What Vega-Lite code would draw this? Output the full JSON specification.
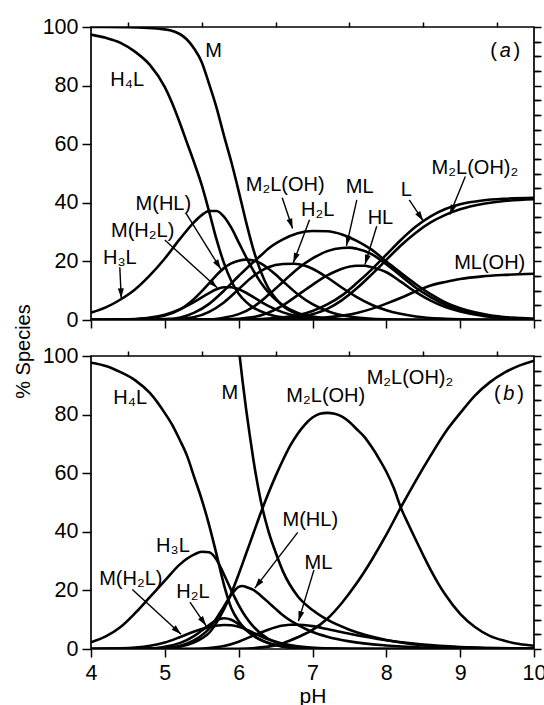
{
"$schema": "https://vega.github.io/schema/vega-lite/v6.json",
"background": "white",
"padding": {"left": 12, "top": 15, "right": 0, "bottom": 0},
"spacing": 36,
"bounds": "flush",
"config": {
  "font": "Liberation Sans",
  "view": {"stroke": "black", "strokeWidth": 1.7},
  "axis": {"domain": false, "grid": false, "ticks": true, "tickColor": "black", "tickWidth": 1.5, "labelColor": "black", "labelFont": "Liberation Sans", "labelFontSize": 21.5, "titleFont": "Liberation Sans", "titleFontSize": 20, "titleFontWeight": "normal", "titleColor": "black", "labelOverlap": false, "labelFlush": false}
},
"datasets": {
"curves": [
{"panel":"a","sp":"M","pH":4,"pct":100},{"panel":"a","sp":"M","pH":4.5,"pct":99.9},{"panel":"a","sp":"M","pH":5,"pct":99.2},{"panel":"a","sp":"M","pH":5.25,"pct":96.8},{"panel":"a","sp":"M","pH":5.4,"pct":92.5},{"panel":"a","sp":"M","pH":5.5,"pct":88},{"panel":"a","sp":"M","pH":5.6,"pct":80.5},{"panel":"a","sp":"M","pH":5.7,"pct":72.5},{"panel":"a","sp":"M","pH":5.8,"pct":63},{"panel":"a","sp":"M","pH":5.9,"pct":54},{"panel":"a","sp":"M","pH":6.0,"pct":44},{"panel":"a","sp":"M","pH":6.1,"pct":33.5},{"panel":"a","sp":"M","pH":6.2,"pct":24},{"panel":"a","sp":"M","pH":6.3,"pct":16.5},{"panel":"a","sp":"M","pH":6.4,"pct":11},{"panel":"a","sp":"M","pH":6.5,"pct":7.4},{"panel":"a","sp":"M","pH":6.6,"pct":4.8},{"panel":"a","sp":"M","pH":6.8,"pct":2},{"panel":"a","sp":"M","pH":7.0,"pct":0.8},{"panel":"a","sp":"M","pH":7.5,"pct":0.1},{"panel":"a","sp":"M","pH":8,"pct":0},{"panel":"a","sp":"M","pH":10,"pct":0},
{"panel":"a","sp":"H4L","pH":4,"pct":97.4},{"panel":"a","sp":"H4L","pH":4.2,"pct":96.3},{"panel":"a","sp":"H4L","pH":4.4,"pct":94.6},{"panel":"a","sp":"H4L","pH":4.6,"pct":91.5},{"panel":"a","sp":"H4L","pH":4.8,"pct":87},{"panel":"a","sp":"H4L","pH":5.0,"pct":79.5},{"panel":"a","sp":"H4L","pH":5.1,"pct":74},{"panel":"a","sp":"H4L","pH":5.2,"pct":67.5},{"panel":"a","sp":"H4L","pH":5.3,"pct":60.5},{"panel":"a","sp":"H4L","pH":5.4,"pct":53.5},{"panel":"a","sp":"H4L","pH":5.5,"pct":46},{"panel":"a","sp":"H4L","pH":5.6,"pct":37},{"panel":"a","sp":"H4L","pH":5.7,"pct":27.5},{"panel":"a","sp":"H4L","pH":5.8,"pct":19.5},{"panel":"a","sp":"H4L","pH":5.9,"pct":13.3},{"panel":"a","sp":"H4L","pH":6.0,"pct":9},{"panel":"a","sp":"H4L","pH":6.1,"pct":6.2},{"panel":"a","sp":"H4L","pH":6.2,"pct":4.2},{"panel":"a","sp":"H4L","pH":6.4,"pct":2},{"panel":"a","sp":"H4L","pH":6.6,"pct":0.9},{"panel":"a","sp":"H4L","pH":6.8,"pct":0.4},{"panel":"a","sp":"H4L","pH":7.0,"pct":0.2},{"panel":"a","sp":"H4L","pH":7.5,"pct":0},{"panel":"a","sp":"H4L","pH":10,"pct":0},
{"panel":"a","sp":"H3L","pH":4,"pct":2.5},{"panel":"a","sp":"H3L","pH":4.2,"pct":4.3},{"panel":"a","sp":"H3L","pH":4.4,"pct":7.0},{"panel":"a","sp":"H3L","pH":4.6,"pct":10.5},{"panel":"a","sp":"H3L","pH":4.8,"pct":15.3},{"panel":"a","sp":"H3L","pH":5.0,"pct":21},{"panel":"a","sp":"H3L","pH":5.2,"pct":27.5},{"panel":"a","sp":"H3L","pH":5.4,"pct":33.5},{"panel":"a","sp":"H3L","pH":5.5,"pct":35.8},{"panel":"a","sp":"H3L","pH":5.6,"pct":37.2},{"panel":"a","sp":"H3L","pH":5.7,"pct":37.2},{"panel":"a","sp":"H3L","pH":5.8,"pct":35.3},{"panel":"a","sp":"H3L","pH":5.9,"pct":31.5},{"panel":"a","sp":"H3L","pH":6.0,"pct":26.5},{"panel":"a","sp":"H3L","pH":6.1,"pct":21.5},{"panel":"a","sp":"H3L","pH":6.2,"pct":16.8},{"panel":"a","sp":"H3L","pH":6.3,"pct":12.8},{"panel":"a","sp":"H3L","pH":6.4,"pct":9.5},{"panel":"a","sp":"H3L","pH":6.5,"pct":7},{"panel":"a","sp":"H3L","pH":6.6,"pct":5},{"panel":"a","sp":"H3L","pH":6.8,"pct":2.4},{"panel":"a","sp":"H3L","pH":7.0,"pct":1.2},{"panel":"a","sp":"H3L","pH":7.5,"pct":0.2},{"panel":"a","sp":"H3L","pH":8,"pct":0},{"panel":"a","sp":"H3L","pH":10,"pct":0},
{"panel":"a","sp":"MH2L","pH":4,"pct":0},{"panel":"a","sp":"MH2L","pH":4.4,"pct":0.1},{"panel":"a","sp":"MH2L","pH":4.6,"pct":0.3},{"panel":"a","sp":"MH2L","pH":4.8,"pct":0.8},{"panel":"a","sp":"MH2L","pH":5.0,"pct":1.8},{"panel":"a","sp":"MH2L","pH":5.2,"pct":3.6},{"panel":"a","sp":"MH2L","pH":5.4,"pct":6.2},{"panel":"a","sp":"MH2L","pH":5.6,"pct":9.2},{"panel":"a","sp":"MH2L","pH":5.7,"pct":10.5},{"panel":"a","sp":"MH2L","pH":5.8,"pct":11.2},{"panel":"a","sp":"MH2L","pH":5.9,"pct":11.2},{"panel":"a","sp":"MH2L","pH":6.0,"pct":10.5},{"panel":"a","sp":"MH2L","pH":6.1,"pct":9.3},{"panel":"a","sp":"MH2L","pH":6.2,"pct":7.8},{"panel":"a","sp":"MH2L","pH":6.4,"pct":4.8},{"panel":"a","sp":"MH2L","pH":6.6,"pct":2.6},{"panel":"a","sp":"MH2L","pH":6.8,"pct":1.3},{"panel":"a","sp":"MH2L","pH":7.0,"pct":0.6},{"panel":"a","sp":"MH2L","pH":7.5,"pct":0.1},{"panel":"a","sp":"MH2L","pH":8,"pct":0},{"panel":"a","sp":"MH2L","pH":10,"pct":0},
{"panel":"a","sp":"MHL","pH":4,"pct":0},{"panel":"a","sp":"MHL","pH":4.6,"pct":0.2},{"panel":"a","sp":"MHL","pH":4.8,"pct":0.6},{"panel":"a","sp":"MHL","pH":5.0,"pct":1.5},{"panel":"a","sp":"MHL","pH":5.2,"pct":3.5},{"panel":"a","sp":"MHL","pH":5.4,"pct":7.3},{"panel":"a","sp":"MHL","pH":5.6,"pct":12.5},{"panel":"a","sp":"MHL","pH":5.7,"pct":15.3},{"panel":"a","sp":"MHL","pH":5.8,"pct":17.7},{"panel":"a","sp":"MHL","pH":5.9,"pct":19.3},{"panel":"a","sp":"MHL","pH":6.0,"pct":20.2},{"panel":"a","sp":"MHL","pH":6.1,"pct":20.6},{"panel":"a","sp":"MHL","pH":6.2,"pct":20.3},{"panel":"a","sp":"MHL","pH":6.3,"pct":19.3},{"panel":"a","sp":"MHL","pH":6.4,"pct":17.6},{"panel":"a","sp":"MHL","pH":6.5,"pct":15.5},{"panel":"a","sp":"MHL","pH":6.6,"pct":13.2},{"panel":"a","sp":"MHL","pH":6.8,"pct":8.8},{"panel":"a","sp":"MHL","pH":7.0,"pct":5.4},{"panel":"a","sp":"MHL","pH":7.2,"pct":3.1},{"panel":"a","sp":"MHL","pH":7.5,"pct":1.2},{"panel":"a","sp":"MHL","pH":8.0,"pct":0.2},{"panel":"a","sp":"MHL","pH":8.5,"pct":0},{"panel":"a","sp":"MHL","pH":10,"pct":0},
{"panel":"a","sp":"M2LOH","pH":4,"pct":0},{"panel":"a","sp":"M2LOH","pH":4.8,"pct":0},{"panel":"a","sp":"M2LOH","pH":5.0,"pct":0.3},{"panel":"a","sp":"M2LOH","pH":5.2,"pct":0.8},{"panel":"a","sp":"M2LOH","pH":5.4,"pct":2.5},{"panel":"a","sp":"M2LOH","pH":5.6,"pct":5.5},{"panel":"a","sp":"M2LOH","pH":5.8,"pct":10},{"panel":"a","sp":"M2LOH","pH":6.0,"pct":15},{"panel":"a","sp":"M2LOH","pH":6.2,"pct":19.8},{"panel":"a","sp":"M2LOH","pH":6.3,"pct":22},{"panel":"a","sp":"M2LOH","pH":6.4,"pct":24.3},{"panel":"a","sp":"M2LOH","pH":6.6,"pct":27.5},{"panel":"a","sp":"M2LOH","pH":6.8,"pct":29.6},{"panel":"a","sp":"M2LOH","pH":7.0,"pct":30.4},{"panel":"a","sp":"M2LOH","pH":7.2,"pct":30.3},{"panel":"a","sp":"M2LOH","pH":7.4,"pct":29.2},{"panel":"a","sp":"M2LOH","pH":7.6,"pct":27},{"panel":"a","sp":"M2LOH","pH":7.8,"pct":24},{"panel":"a","sp":"M2LOH","pH":8.0,"pct":20},{"panel":"a","sp":"M2LOH","pH":8.2,"pct":16},{"panel":"a","sp":"M2LOH","pH":8.4,"pct":12.2},{"panel":"a","sp":"M2LOH","pH":8.6,"pct":8.8},{"panel":"a","sp":"M2LOH","pH":8.8,"pct":6},{"panel":"a","sp":"M2LOH","pH":9.0,"pct":4},{"panel":"a","sp":"M2LOH","pH":9.2,"pct":2.6},{"panel":"a","sp":"M2LOH","pH":9.4,"pct":1.6},{"panel":"a","sp":"M2LOH","pH":9.7,"pct":0.8},{"panel":"a","sp":"M2LOH","pH":10,"pct":0.4},
{"panel":"a","sp":"H2L","pH":4,"pct":0},{"panel":"a","sp":"H2L","pH":5.0,"pct":0.1},{"panel":"a","sp":"H2L","pH":5.2,"pct":0.4},{"panel":"a","sp":"H2L","pH":5.4,"pct":1},{"panel":"a","sp":"H2L","pH":5.6,"pct":2.8},{"panel":"a","sp":"H2L","pH":5.8,"pct":6},{"panel":"a","sp":"H2L","pH":6.0,"pct":10.5},{"panel":"a","sp":"H2L","pH":6.2,"pct":15},{"panel":"a","sp":"H2L","pH":6.4,"pct":18},{"panel":"a","sp":"H2L","pH":6.6,"pct":19.1},{"panel":"a","sp":"H2L","pH":6.75,"pct":19.2},{"panel":"a","sp":"H2L","pH":6.9,"pct":18.5},{"panel":"a","sp":"H2L","pH":7.0,"pct":17.5},{"panel":"a","sp":"H2L","pH":7.2,"pct":14.5},{"panel":"a","sp":"H2L","pH":7.4,"pct":11},{"panel":"a","sp":"H2L","pH":7.6,"pct":7.8},{"panel":"a","sp":"H2L","pH":7.8,"pct":5.2},{"panel":"a","sp":"H2L","pH":8.0,"pct":3.3},{"panel":"a","sp":"H2L","pH":8.4,"pct":1.2},{"panel":"a","sp":"H2L","pH":8.8,"pct":0.4},{"panel":"a","sp":"H2L","pH":9.2,"pct":0.1},{"panel":"a","sp":"H2L","pH":10,"pct":0},
{"panel":"a","sp":"ML","pH":4,"pct":0},{"panel":"a","sp":"ML","pH":5.6,"pct":0.2},{"panel":"a","sp":"ML","pH":5.8,"pct":0.8},{"panel":"a","sp":"ML","pH":6.0,"pct":2},{"panel":"a","sp":"ML","pH":6.2,"pct":4.5},{"panel":"a","sp":"ML","pH":6.4,"pct":8.5},{"panel":"a","sp":"ML","pH":6.6,"pct":13},{"panel":"a","sp":"ML","pH":6.8,"pct":17.5},{"panel":"a","sp":"ML","pH":7.0,"pct":21},{"panel":"a","sp":"ML","pH":7.2,"pct":23.5},{"panel":"a","sp":"ML","pH":7.4,"pct":24.6},{"panel":"a","sp":"ML","pH":7.5,"pct":24.7},{"panel":"a","sp":"ML","pH":7.6,"pct":24.3},{"panel":"a","sp":"ML","pH":7.8,"pct":22.5},{"panel":"a","sp":"ML","pH":8.0,"pct":19},{"panel":"a","sp":"ML","pH":8.2,"pct":15},{"panel":"a","sp":"ML","pH":8.4,"pct":11},{"panel":"a","sp":"ML","pH":8.6,"pct":7.8},{"panel":"a","sp":"ML","pH":8.8,"pct":5.2},{"panel":"a","sp":"ML","pH":9.0,"pct":3.4},{"panel":"a","sp":"ML","pH":9.2,"pct":2.2},{"panel":"a","sp":"ML","pH":9.4,"pct":1.3},{"panel":"a","sp":"ML","pH":9.7,"pct":0.6},{"panel":"a","sp":"ML","pH":10,"pct":0.3},
{"panel":"a","sp":"HL","pH":4,"pct":0},{"panel":"a","sp":"HL","pH":5.8,"pct":0.2},{"panel":"a","sp":"HL","pH":6.2,"pct":1},{"panel":"a","sp":"HL","pH":6.4,"pct":2.5},{"panel":"a","sp":"HL","pH":6.6,"pct":5},{"panel":"a","sp":"HL","pH":6.8,"pct":8.5},{"panel":"a","sp":"HL","pH":7.0,"pct":12},{"panel":"a","sp":"HL","pH":7.2,"pct":15.2},{"panel":"a","sp":"HL","pH":7.4,"pct":17.5},{"panel":"a","sp":"HL","pH":7.6,"pct":18.5},{"panel":"a","sp":"HL","pH":7.7,"pct":18.5},{"panel":"a","sp":"HL","pH":7.8,"pct":18},{"panel":"a","sp":"HL","pH":8.0,"pct":16.3},{"panel":"a","sp":"HL","pH":8.2,"pct":13},{"panel":"a","sp":"HL","pH":8.4,"pct":9.5},{"panel":"a","sp":"HL","pH":8.6,"pct":6.6},{"panel":"a","sp":"HL","pH":8.8,"pct":4.4},{"panel":"a","sp":"HL","pH":9.0,"pct":2.9},{"panel":"a","sp":"HL","pH":9.2,"pct":1.9},{"panel":"a","sp":"HL","pH":9.4,"pct":1.1},{"panel":"a","sp":"HL","pH":9.7,"pct":0.5},{"panel":"a","sp":"HL","pH":10,"pct":0.2},
{"panel":"a","sp":"L","pH":4,"pct":0},{"panel":"a","sp":"L","pH":5.5,"pct":0},{"panel":"a","sp":"L","pH":6.0,"pct":0.1},{"panel":"a","sp":"L","pH":6.4,"pct":0.5},{"panel":"a","sp":"L","pH":6.8,"pct":1.6},{"panel":"a","sp":"L","pH":7.0,"pct":3.1},{"panel":"a","sp":"L","pH":7.2,"pct":5.3},{"panel":"a","sp":"L","pH":7.4,"pct":8.4},{"panel":"a","sp":"L","pH":7.6,"pct":12.6},{"panel":"a","sp":"L","pH":7.8,"pct":17.2},{"panel":"a","sp":"L","pH":8.0,"pct":22.3},{"panel":"a","sp":"L","pH":8.2,"pct":27.4},{"panel":"a","sp":"L","pH":8.4,"pct":31.9},{"panel":"a","sp":"L","pH":8.6,"pct":35.4},{"panel":"a","sp":"L","pH":8.8,"pct":37.9},{"panel":"a","sp":"L","pH":9.0,"pct":39.5},{"panel":"a","sp":"L","pH":9.3,"pct":40.8},{"panel":"a","sp":"L","pH":9.6,"pct":41.4},{"panel":"a","sp":"L","pH":10,"pct":41.7},
{"panel":"a","sp":"M2LOH2","pH":4,"pct":0},{"panel":"a","sp":"M2LOH2","pH":6.0,"pct":0},{"panel":"a","sp":"M2LOH2","pH":6.6,"pct":0.5},{"panel":"a","sp":"M2LOH2","pH":7.0,"pct":2},{"panel":"a","sp":"M2LOH2","pH":7.2,"pct":3.8},{"panel":"a","sp":"M2LOH2","pH":7.4,"pct":6.8},{"panel":"a","sp":"M2LOH2","pH":7.6,"pct":10.8},{"panel":"a","sp":"M2LOH2","pH":7.8,"pct":15.5},{"panel":"a","sp":"M2LOH2","pH":8.0,"pct":20.5},{"panel":"a","sp":"M2LOH2","pH":8.2,"pct":25.5},{"panel":"a","sp":"M2LOH2","pH":8.4,"pct":29.8},{"panel":"a","sp":"M2LOH2","pH":8.6,"pct":33.3},{"panel":"a","sp":"M2LOH2","pH":8.8,"pct":35.9},{"panel":"a","sp":"M2LOH2","pH":9.0,"pct":37.8},{"panel":"a","sp":"M2LOH2","pH":9.3,"pct":39.6},{"panel":"a","sp":"M2LOH2","pH":9.6,"pct":40.6},{"panel":"a","sp":"M2LOH2","pH":10,"pct":41.2},
{"panel":"a","sp":"MLOH","pH":4,"pct":0},{"panel":"a","sp":"MLOH","pH":6.4,"pct":0},{"panel":"a","sp":"MLOH","pH":6.8,"pct":0.3},{"panel":"a","sp":"MLOH","pH":7.2,"pct":0.9},{"panel":"a","sp":"MLOH","pH":7.6,"pct":2.4},{"panel":"a","sp":"MLOH","pH":7.8,"pct":3.8},{"panel":"a","sp":"MLOH","pH":8.0,"pct":5.6},{"panel":"a","sp":"MLOH","pH":8.2,"pct":7.6},{"panel":"a","sp":"MLOH","pH":8.4,"pct":9.8},{"panel":"a","sp":"MLOH","pH":8.6,"pct":11.8},{"panel":"a","sp":"MLOH","pH":8.8,"pct":13},{"panel":"a","sp":"MLOH","pH":9.0,"pct":14},{"panel":"a","sp":"MLOH","pH":9.3,"pct":14.9},{"panel":"a","sp":"MLOH","pH":9.6,"pct":15.4},{"panel":"a","sp":"MLOH","pH":10,"pct":15.8},
{"panel":"b","sp":"H4L","pH":4,"pct":97.7},{"panel":"b","sp":"H4L","pH":4.2,"pct":96.6},{"panel":"b","sp":"H4L","pH":4.4,"pct":94.5},{"panel":"b","sp":"H4L","pH":4.6,"pct":91.7},{"panel":"b","sp":"H4L","pH":4.8,"pct":87.3},{"panel":"b","sp":"H4L","pH":5.0,"pct":80.5},{"panel":"b","sp":"H4L","pH":5.1,"pct":76.5},{"panel":"b","sp":"H4L","pH":5.2,"pct":71.5},{"panel":"b","sp":"H4L","pH":5.3,"pct":66},{"panel":"b","sp":"H4L","pH":5.4,"pct":58.5},{"panel":"b","sp":"H4L","pH":5.5,"pct":51},{"panel":"b","sp":"H4L","pH":5.6,"pct":42.3},{"panel":"b","sp":"H4L","pH":5.7,"pct":32.3},{"panel":"b","sp":"H4L","pH":5.8,"pct":22},{"panel":"b","sp":"H4L","pH":5.9,"pct":14},{"panel":"b","sp":"H4L","pH":6.0,"pct":9.5},{"panel":"b","sp":"H4L","pH":6.1,"pct":6.6},{"panel":"b","sp":"H4L","pH":6.2,"pct":4.5},{"panel":"b","sp":"H4L","pH":6.4,"pct":2.1},{"panel":"b","sp":"H4L","pH":6.6,"pct":0.9},{"panel":"b","sp":"H4L","pH":6.8,"pct":0.4},{"panel":"b","sp":"H4L","pH":7.0,"pct":0.2},{"panel":"b","sp":"H4L","pH":7.5,"pct":0},{"panel":"b","sp":"H4L","pH":10,"pct":0},
{"panel":"b","sp":"H3L","pH":4,"pct":2.3},{"panel":"b","sp":"H3L","pH":4.2,"pct":4.3},{"panel":"b","sp":"H3L","pH":4.4,"pct":7.5},{"panel":"b","sp":"H3L","pH":4.6,"pct":12.3},{"panel":"b","sp":"H3L","pH":4.8,"pct":17.8},{"panel":"b","sp":"H3L","pH":5.0,"pct":23.3},{"panel":"b","sp":"H3L","pH":5.2,"pct":28.8},{"panel":"b","sp":"H3L","pH":5.4,"pct":32.3},{"panel":"b","sp":"H3L","pH":5.5,"pct":33.2},{"panel":"b","sp":"H3L","pH":5.6,"pct":33},{"panel":"b","sp":"H3L","pH":5.7,"pct":30.5},{"panel":"b","sp":"H3L","pH":5.8,"pct":25.5},{"panel":"b","sp":"H3L","pH":5.9,"pct":20},{"panel":"b","sp":"H3L","pH":6.0,"pct":15},{"panel":"b","sp":"H3L","pH":6.1,"pct":10.8},{"panel":"b","sp":"H3L","pH":6.2,"pct":7.6},{"panel":"b","sp":"H3L","pH":6.4,"pct":3.5},{"panel":"b","sp":"H3L","pH":6.6,"pct":1.6},{"panel":"b","sp":"H3L","pH":6.8,"pct":0.7},{"panel":"b","sp":"H3L","pH":7.0,"pct":0.3},{"panel":"b","sp":"H3L","pH":7.5,"pct":0},{"panel":"b","sp":"H3L","pH":10,"pct":0},
{"panel":"b","sp":"M","pH":6.0,"pct":103},{"panel":"b","sp":"M","pH":6.05,"pct":92},{"panel":"b","sp":"M","pH":6.1,"pct":82},{"panel":"b","sp":"M","pH":6.15,"pct":73},{"panel":"b","sp":"M","pH":6.2,"pct":64.5},{"panel":"b","sp":"M","pH":6.3,"pct":50.5},{"panel":"b","sp":"M","pH":6.4,"pct":40.5},{"panel":"b","sp":"M","pH":6.5,"pct":33},{"panel":"b","sp":"M","pH":6.6,"pct":26.5},{"panel":"b","sp":"M","pH":6.8,"pct":18},{"panel":"b","sp":"M","pH":7.0,"pct":13.3},{"panel":"b","sp":"M","pH":7.2,"pct":10},{"panel":"b","sp":"M","pH":7.5,"pct":6.6},{"panel":"b","sp":"M","pH":8.0,"pct":3.1},{"panel":"b","sp":"M","pH":8.5,"pct":1.3},{"panel":"b","sp":"M","pH":9.0,"pct":0.6},{"panel":"b","sp":"M","pH":9.5,"pct":0.25},{"panel":"b","sp":"M","pH":10,"pct":0.1},
{"panel":"b","sp":"M2LOH","pH":4,"pct":0},{"panel":"b","sp":"M2LOH","pH":4.6,"pct":0},{"panel":"b","sp":"M2LOH","pH":5.0,"pct":0.3},{"panel":"b","sp":"M2LOH","pH":5.2,"pct":0.8},{"panel":"b","sp":"M2LOH","pH":5.4,"pct":2.3},{"panel":"b","sp":"M2LOH","pH":5.5,"pct":3.6},{"panel":"b","sp":"M2LOH","pH":5.6,"pct":5.5},{"panel":"b","sp":"M2LOH","pH":5.7,"pct":9},{"panel":"b","sp":"M2LOH","pH":5.8,"pct":13.5},{"panel":"b","sp":"M2LOH","pH":5.9,"pct":19},{"panel":"b","sp":"M2LOH","pH":6.0,"pct":25.5},{"panel":"b","sp":"M2LOH","pH":6.1,"pct":32.5},{"panel":"b","sp":"M2LOH","pH":6.2,"pct":39.5},{"panel":"b","sp":"M2LOH","pH":6.3,"pct":46.5},{"panel":"b","sp":"M2LOH","pH":6.4,"pct":53},{"panel":"b","sp":"M2LOH","pH":6.5,"pct":59},{"panel":"b","sp":"M2LOH","pH":6.6,"pct":64.5},{"panel":"b","sp":"M2LOH","pH":6.7,"pct":69.5},{"panel":"b","sp":"M2LOH","pH":6.8,"pct":73.5},{"panel":"b","sp":"M2LOH","pH":6.9,"pct":76.7},{"panel":"b","sp":"M2LOH","pH":7.0,"pct":79},{"panel":"b","sp":"M2LOH","pH":7.1,"pct":80.3},{"panel":"b","sp":"M2LOH","pH":7.2,"pct":80.6},{"panel":"b","sp":"M2LOH","pH":7.3,"pct":80.3},{"panel":"b","sp":"M2LOH","pH":7.4,"pct":79.3},{"panel":"b","sp":"M2LOH","pH":7.5,"pct":77.5},{"panel":"b","sp":"M2LOH","pH":7.6,"pct":75},{"panel":"b","sp":"M2LOH","pH":7.7,"pct":72.5},{"panel":"b","sp":"M2LOH","pH":7.8,"pct":69},{"panel":"b","sp":"M2LOH","pH":7.9,"pct":65},{"panel":"b","sp":"M2LOH","pH":8.0,"pct":60.5},{"panel":"b","sp":"M2LOH","pH":8.1,"pct":55},{"panel":"b","sp":"M2LOH","pH":8.2,"pct":48},{"panel":"b","sp":"M2LOH","pH":8.3,"pct":42.5},{"panel":"b","sp":"M2LOH","pH":8.4,"pct":37.2},{"panel":"b","sp":"M2LOH","pH":8.5,"pct":32},{"panel":"b","sp":"M2LOH","pH":8.6,"pct":27},{"panel":"b","sp":"M2LOH","pH":8.7,"pct":22.5},{"panel":"b","sp":"M2LOH","pH":8.8,"pct":18.5},{"panel":"b","sp":"M2LOH","pH":9.0,"pct":12},{"panel":"b","sp":"M2LOH","pH":9.2,"pct":7.5},{"panel":"b","sp":"M2LOH","pH":9.4,"pct":4.5},{"panel":"b","sp":"M2LOH","pH":9.6,"pct":2.8},{"panel":"b","sp":"M2LOH","pH":9.8,"pct":1.7},{"panel":"b","sp":"M2LOH","pH":10,"pct":1.1},
{"panel":"b","sp":"M2LOH2","pH":4,"pct":0},{"panel":"b","sp":"M2LOH2","pH":6.0,"pct":0.1},{"panel":"b","sp":"M2LOH2","pH":6.4,"pct":0.8},{"panel":"b","sp":"M2LOH2","pH":6.6,"pct":2},{"panel":"b","sp":"M2LOH2","pH":6.8,"pct":4},{"panel":"b","sp":"M2LOH2","pH":7.0,"pct":6.5},{"panel":"b","sp":"M2LOH2","pH":7.2,"pct":10.3},{"panel":"b","sp":"M2LOH2","pH":7.4,"pct":15.8},{"panel":"b","sp":"M2LOH2","pH":7.6,"pct":22.5},{"panel":"b","sp":"M2LOH2","pH":7.8,"pct":30.3},{"panel":"b","sp":"M2LOH2","pH":8.0,"pct":39},{"panel":"b","sp":"M2LOH2","pH":8.2,"pct":48.5},{"panel":"b","sp":"M2LOH2","pH":8.4,"pct":57.5},{"panel":"b","sp":"M2LOH2","pH":8.6,"pct":66},{"panel":"b","sp":"M2LOH2","pH":8.8,"pct":74},{"panel":"b","sp":"M2LOH2","pH":9.0,"pct":80.5},{"panel":"b","sp":"M2LOH2","pH":9.2,"pct":86.5},{"panel":"b","sp":"M2LOH2","pH":9.4,"pct":91},{"panel":"b","sp":"M2LOH2","pH":9.6,"pct":94.3},{"panel":"b","sp":"M2LOH2","pH":9.8,"pct":96.7},{"panel":"b","sp":"M2LOH2","pH":10,"pct":98.4},
{"panel":"b","sp":"MHL","pH":4,"pct":0},{"panel":"b","sp":"MHL","pH":4.8,"pct":0.1},{"panel":"b","sp":"MHL","pH":5.0,"pct":0.3},{"panel":"b","sp":"MHL","pH":5.2,"pct":1},{"panel":"b","sp":"MHL","pH":5.4,"pct":3},{"panel":"b","sp":"MHL","pH":5.6,"pct":7},{"panel":"b","sp":"MHL","pH":5.7,"pct":10.5},{"panel":"b","sp":"MHL","pH":5.8,"pct":14.5},{"panel":"b","sp":"MHL","pH":5.9,"pct":18.5},{"panel":"b","sp":"MHL","pH":6.0,"pct":21.2},{"panel":"b","sp":"MHL","pH":6.05,"pct":21.5},{"panel":"b","sp":"MHL","pH":6.1,"pct":21.2},{"panel":"b","sp":"MHL","pH":6.2,"pct":20.2},{"panel":"b","sp":"MHL","pH":6.3,"pct":18.2},{"panel":"b","sp":"MHL","pH":6.4,"pct":16},{"panel":"b","sp":"MHL","pH":6.5,"pct":13.7},{"panel":"b","sp":"MHL","pH":6.6,"pct":11.5},{"panel":"b","sp":"MHL","pH":6.8,"pct":8.2},{"panel":"b","sp":"MHL","pH":7.0,"pct":5.8},{"panel":"b","sp":"MHL","pH":7.2,"pct":4.2},{"panel":"b","sp":"MHL","pH":7.5,"pct":2.6},{"panel":"b","sp":"MHL","pH":8.0,"pct":1.2},{"panel":"b","sp":"MHL","pH":8.5,"pct":0.5},{"panel":"b","sp":"MHL","pH":9,"pct":0.2},{"panel":"b","sp":"MHL","pH":10,"pct":0},
{"panel":"b","sp":"H2L","pH":4,"pct":0},{"panel":"b","sp":"H2L","pH":4.8,"pct":0.2},{"panel":"b","sp":"H2L","pH":5.0,"pct":0.8},{"panel":"b","sp":"H2L","pH":5.2,"pct":2},{"panel":"b","sp":"H2L","pH":5.4,"pct":4.5},{"panel":"b","sp":"H2L","pH":5.5,"pct":6.3},{"panel":"b","sp":"H2L","pH":5.6,"pct":8.2},{"panel":"b","sp":"H2L","pH":5.7,"pct":9.8},{"panel":"b","sp":"H2L","pH":5.8,"pct":10.5},{"panel":"b","sp":"H2L","pH":5.9,"pct":10},{"panel":"b","sp":"H2L","pH":6.0,"pct":8.5},{"panel":"b","sp":"H2L","pH":6.1,"pct":6.5},{"panel":"b","sp":"H2L","pH":6.2,"pct":4.6},{"panel":"b","sp":"H2L","pH":6.3,"pct":3.1},{"panel":"b","sp":"H2L","pH":6.4,"pct":2},{"panel":"b","sp":"H2L","pH":6.6,"pct":0.8},{"panel":"b","sp":"H2L","pH":6.8,"pct":0.3},{"panel":"b","sp":"H2L","pH":7.0,"pct":0.1},{"panel":"b","sp":"H2L","pH":7.5,"pct":0},{"panel":"b","sp":"H2L","pH":10,"pct":0},
{"panel":"b","sp":"MH2L","pH":4,"pct":0},{"panel":"b","sp":"MH2L","pH":4.4,"pct":0.2},{"panel":"b","sp":"MH2L","pH":4.6,"pct":0.5},{"panel":"b","sp":"MH2L","pH":4.8,"pct":1.1},{"panel":"b","sp":"MH2L","pH":5.0,"pct":2.2},{"panel":"b","sp":"MH2L","pH":5.2,"pct":4},{"panel":"b","sp":"MH2L","pH":5.4,"pct":6},{"panel":"b","sp":"MH2L","pH":5.6,"pct":7.5},{"panel":"b","sp":"MH2L","pH":5.8,"pct":8.2},{"panel":"b","sp":"MH2L","pH":5.9,"pct":8.1},{"panel":"b","sp":"MH2L","pH":6.0,"pct":7.6},{"panel":"b","sp":"MH2L","pH":6.1,"pct":6.7},{"panel":"b","sp":"MH2L","pH":6.2,"pct":5.5},{"panel":"b","sp":"MH2L","pH":6.4,"pct":3.3},{"panel":"b","sp":"MH2L","pH":6.6,"pct":1.8},{"panel":"b","sp":"MH2L","pH":6.8,"pct":0.9},{"panel":"b","sp":"MH2L","pH":7.0,"pct":0.4},{"panel":"b","sp":"MH2L","pH":7.4,"pct":0.1},{"panel":"b","sp":"MH2L","pH":8,"pct":0},{"panel":"b","sp":"MH2L","pH":10,"pct":0},
{"panel":"b","sp":"ML","pH":4,"pct":0},{"panel":"b","sp":"ML","pH":5.4,"pct":0},{"panel":"b","sp":"ML","pH":5.6,"pct":0.3},{"panel":"b","sp":"ML","pH":5.8,"pct":1},{"panel":"b","sp":"ML","pH":6.0,"pct":2.5},{"panel":"b","sp":"ML","pH":6.2,"pct":4.6},{"panel":"b","sp":"ML","pH":6.4,"pct":6.6},{"panel":"b","sp":"ML","pH":6.6,"pct":8},{"panel":"b","sp":"ML","pH":6.7,"pct":8.3},{"panel":"b","sp":"ML","pH":6.8,"pct":8.3},{"panel":"b","sp":"ML","pH":7.0,"pct":7.8},{"panel":"b","sp":"ML","pH":7.2,"pct":6.8},{"panel":"b","sp":"ML","pH":7.5,"pct":5.2},{"panel":"b","sp":"ML","pH":8.0,"pct":3},{"panel":"b","sp":"ML","pH":8.5,"pct":1.5},{"panel":"b","sp":"ML","pH":9.0,"pct":0.7},{"panel":"b","sp":"ML","pH":9.5,"pct":0.3},{"panel":"b","sp":"ML","pH":10,"pct":0.1}
],
"labels": [
{"panel":"a","text":"M","pH":5.66,"pct":91.7},
{"panel":"a","text":"H₄L","pH":4.49,"pct":82},
{"panel":"a","text":"M₂L(OH)","pH":6.63,"pct":46.2},
{"panel":"a","text":"ML","pH":7.64,"pct":45.3},
{"panel":"a","text":"L","pH":8.27,"pct":44.3},
{"panel":"a","text":"M₂L(OH)₂","pH":9.2,"pct":51.9},
{"panel":"a","text":"H₂L","pH":7.07,"pct":37.7},
{"panel":"a","text":"HL","pH":7.92,"pct":34.9},
{"panel":"a","text":"M(HL)","pH":4.98,"pct":39.5},
{"panel":"a","text":"M(H₂L)","pH":4.7,"pct":30.3},
{"panel":"a","text":"H₃L","pH":4.39,"pct":21.3},
{"panel":"a","text":"ML(OH)","pH":9.4,"pct":19.5},
{"panel":"b","text":"H₄L","pH":4.53,"pct":85.8},
{"panel":"b","text":"M","pH":5.88,"pct":87.5},
{"panel":"b","text":"M₂L(OH)","pH":7.18,"pct":86.4},
{"panel":"b","text":"M₂L(OH)₂","pH":8.32,"pct":92.6},
{"panel":"b","text":"H₃L","pH":5.11,"pct":35},
{"panel":"b","text":"M(HL)","pH":6.97,"pct":44},
{"panel":"b","text":"ML","pH":7.08,"pct":29.5},
{"panel":"b","text":"M(H₂L)","pH":4.54,"pct":23.9},
{"panel":"b","text":"H₂L","pH":5.38,"pct":19.3}
],
"arrows": [
{"panel":"a","pH":6.59,"pct":41.7,"pH2":6.73,"pct2":31.2},
{"panel":"a","pH":7.6,"pct":41.0,"pH2":7.46,"pct2":25.3},
{"panel":"a","pH":9.07,"pct":49.0,"pH2":8.86,"pct2":36.0},
{"panel":"a","pH":8.31,"pct":41.0,"pH2":8.5,"pct2":33.8},
{"panel":"a","pH":6.96,"pct":34.2,"pH2":6.74,"pct2":19.5},
{"panel":"a","pH":7.87,"pct":32.0,"pH2":7.71,"pct2":18.9},
{"panel":"a","pH":5.29,"pct":36.3,"pH2":5.76,"pct2":17.3},
{"panel":"a","pH":5.0,"pct":27.3,"pH2":5.71,"pct2":11},
{"panel":"a","pH":4.39,"pct":18.0,"pH2":4.41,"pct2":7.4},
{"panel":"b","pH":6.8,"pct":39.8,"pH2":6.22,"pct2":20.8},
{"panel":"b","pH":7.02,"pct":27.0,"pH2":6.81,"pct2":9.5},
{"panel":"b","pH":4.56,"pct":20.3,"pH2":5.22,"pct2":5.0},
{"panel":"b","pH":5.34,"pct":16.0,"pH2":5.56,"pct2":7.9}
],
"tags": [
{"panel":"a","tag":"a","pH":9.61,"pct":91.7},
{"panel":"b","tag":"b","pH":9.66,"pct":86.9}
]
},
"vconcat": [
{
 "width": 443, "height": 293,
 "layer": [
  {"data": {"name": "curves"}, "transform": [{"filter": "datum.panel === 'a'"}],
   "mark": {"type": "line", "interpolate": "monotone", "color": "black", "strokeWidth": 2.6, "clip": true},
   "encoding": {
    "x": {"field": "pH", "type": "quantitative", "scale": {"domain": [4, 10], "nice": false},
      "axis": {"values": [4,5,6,7,8,9,10], "labels": false, "title": null, "tickSize": 8}},
    "y": {"field": "pct", "type": "quantitative", "scale": {"domain": [0, 100], "nice": false},
      "axis": {"values": [0,20,40,60,80,100], "format": "d", "tickSize": 9, "labelPadding": 4,
        "title": "% Species", "titleX": -62, "titleY": 324, "titleAngle": 270,
        "titleAlign": "center", "titleBaseline": "alphabetic", "titleFontSize": 20}},
    "detail": {"field": "sp"}
   }},
  {"data": {"name": "arrows"}, "transform": [{"filter": "datum.panel === 'a'"}],
   "mark": {"type": "rule", "color": "black", "strokeWidth": 1.4},
   "encoding": {
     "x": {"field": "pH", "type": "quantitative", "axis": {"values": [4.5,5.5,6.5,7.5,8.5,9.5], "labels": false, "title": null, "tickSize": 5}},
     "y": {"field": "pct", "type": "quantitative", "axis": {"values": [5,10,15,25,30,35,45,50,55,65,70,75,85,90,95], "labels": false, "title": null, "tickSize": 5}},
     "x2": {"field": "pH2"}, "y2": {"field": "pct2"}}},
  {"data": {"name": "arrows"}, "transform": [{"filter": "datum.panel === 'a'"}, {"calculate": "atan2((datum.pH2 - datum.pH) * 73.8, (datum.pct2 - datum.pct) * 2.93) * 180 / PI", "as": "ang"}],
   "mark": {"type": "point", "shape": "M0,0L-0.6,2L0.6,2Z", "filled": true, "size": 100, "color": "black", "opacity": 1},
   "encoding": {"x": {"field": "pH2", "type": "quantitative", "axis": null}, "y": {"field": "pct2", "type": "quantitative", "axis": null},
     "angle": {"field": "ang", "type": "quantitative", "scale": null}}},
  {"data": {"name": "labels"}, "transform": [{"filter": "datum.panel === 'a'"}],
   "mark": {"type": "text", "fontSize": 20, "font": "Liberation Sans", "color": "black", "align": "center", "baseline": "middle"},
   "encoding": {"x": {"field": "pH", "type": "quantitative", "axis": null},
     "y": {"field": "pct", "type": "quantitative", "axis": {"orient": "right", "values": [0,5,10,15,20,25,30,35,40,45,50,55,60,65,70,75,80,85,90,95,100], "labels": false, "title": null, "tickSize": 7}},
     "text": {"field": "text"}}},
  {"data": {"name": "tags"}, "transform": [{"filter": "datum.panel === 'a'"}],
   "mark": {"type": "text", "fontSize": 20, "font": "Liberation Sans", "color": "black", "align": "center", "baseline": "middle"},
   "encoding": {"x": {"field": "pH", "type": "quantitative", "axis": null}, "y": {"field": "pct", "type": "quantitative", "axis": null}, "text": {"value": "(\u00a0\u00a0\u00a0)"}}},
  {"data": {"name": "tags"}, "transform": [{"filter": "datum.panel === 'a'"}],
   "mark": {"type": "text", "fontSize": 20, "font": "Liberation Sans", "fontStyle": "italic", "color": "black", "align": "center", "baseline": "middle"},
   "encoding": {"x": {"field": "pH", "type": "quantitative", "axis": null}, "y": {"field": "pct", "type": "quantitative", "axis": null}, "text": {"field": "tag"}}}
 ],
 "resolve": {"axis": {"x": "independent", "y": "independent"}}
},
{
 "width": 443, "height": 293,
 "layer": [
  {"data": {"name": "curves"}, "transform": [{"filter": "datum.panel === 'b'"}],
   "mark": {"type": "line", "interpolate": "monotone", "color": "black", "strokeWidth": 2.6, "clip": true},
   "encoding": {
    "x": {"field": "pH", "type": "quantitative", "scale": {"domain": [4, 10], "nice": false},
      "axis": {"values": [4,5,6,7,8,9,10], "format": "d", "labelPadding": 5, "tickSize": 8,
        "title": "pH", "titlePadding": 2, "titleFontSize": 21}},
    "y": {"field": "pct", "type": "quantitative", "scale": {"domain": [0, 100], "nice": false},
      "axis": {"values": [0,20,40,60,80,100], "format": "d", "tickSize": 9, "labelPadding": 4, "title": null}},
    "detail": {"field": "sp"}
   }},
  {"data": {"name": "arrows"}, "transform": [{"filter": "datum.panel === 'b'"}],
   "mark": {"type": "rule", "color": "black", "strokeWidth": 1.4},
   "encoding": {
     "x": {"field": "pH", "type": "quantitative", "axis": {"values": [4.5,5.5,6.5,7.5,8.5,9.5], "labels": false, "title": null, "tickSize": 5}},
     "y": {"field": "pct", "type": "quantitative", "axis": {"values": [5,10,15,25,30,35,45,50,55,65,70,75,85,90,95], "labels": false, "title": null, "tickSize": 5}},
     "x2": {"field": "pH2"}, "y2": {"field": "pct2"}}},
  {"data": {"name": "arrows"}, "transform": [{"filter": "datum.panel === 'b'"}, {"calculate": "atan2((datum.pH2 - datum.pH) * 73.8, (datum.pct2 - datum.pct) * 2.93) * 180 / PI", "as": "ang"}],
   "mark": {"type": "point", "shape": "M0,0L-0.6,2L0.6,2Z", "filled": true, "size": 100, "color": "black", "opacity": 1},
   "encoding": {"x": {"field": "pH2", "type": "quantitative", "axis": null}, "y": {"field": "pct2", "type": "quantitative", "axis": null},
     "angle": {"field": "ang", "type": "quantitative", "scale": null}}},
  {"data": {"name": "labels"}, "transform": [{"filter": "datum.panel === 'b'"}],
   "mark": {"type": "text", "fontSize": 20, "font": "Liberation Sans", "color": "black", "align": "center", "baseline": "middle"},
   "encoding": {"x": {"field": "pH", "type": "quantitative", "axis": null},
     "y": {"field": "pct", "type": "quantitative", "axis": {"orient": "right", "values": [0,5,10,15,20,25,30,35,40,45,50,55,60,65,70,75,80,85,90,95,100], "labels": false, "title": null, "tickSize": 7}},
     "text": {"field": "text"}}},
  {"data": {"name": "tags"}, "transform": [{"filter": "datum.panel === 'b'"}],
   "mark": {"type": "text", "fontSize": 20, "font": "Liberation Sans", "color": "black", "align": "center", "baseline": "middle"},
   "encoding": {"x": {"field": "pH", "type": "quantitative", "axis": null}, "y": {"field": "pct", "type": "quantitative", "axis": null}, "text": {"value": "(\u00a0\u00a0\u00a0)"}}},
  {"data": {"name": "tags"}, "transform": [{"filter": "datum.panel === 'b'"}],
   "mark": {"type": "text", "fontSize": 20, "font": "Liberation Sans", "fontStyle": "italic", "color": "black", "align": "center", "baseline": "middle"},
   "encoding": {"x": {"field": "pH", "type": "quantitative", "axis": null}, "y": {"field": "pct", "type": "quantitative", "axis": null}, "text": {"field": "tag"}}}
 ],
 "resolve": {"axis": {"x": "independent", "y": "independent"}}
}
]
}
